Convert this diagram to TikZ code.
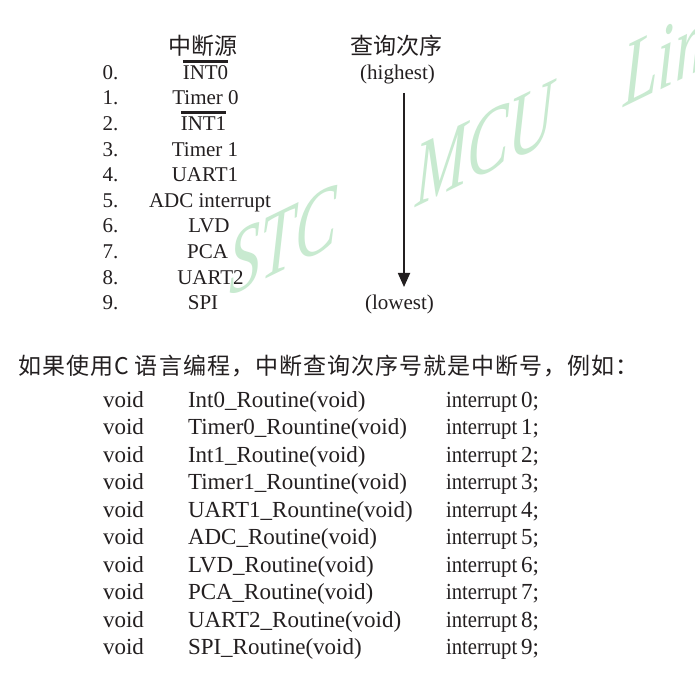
\documentclass[tikz,border=0pt]{standalone}
\usepackage{fontspec}
\setmainfont{Liberation Serif}
\newfontfamily\cjk{Noto Sans CJK SC}
\usetikzlibrary{arrows.meta}
\definecolor{ink}{HTML}{231F20}
\definecolor{wmgreen}{RGB}{200,234,208}
\tikzset{
  txt/.style={inner sep=0pt, outer sep=0pt, text=ink, font=\fontsize{21}{25}\selectfont, anchor=base},
  num/.style={txt, anchor=base west},
  code/.style={inner sep=0pt, outer sep=0pt, text=ink, font=\fontsize{23}{27}\selectfont, anchor=base west},
  hz/.style={inner sep=0pt, outer sep=0pt, text=ink, font=\cjk\fontsize{23}{27}\selectfont},
  bar/.style={line width=3.5pt, draw=ink},
  flow/.style={line width=1.8pt, draw=ink, -{Triangle[length=14pt,width=12pt]}},
  watermark/.style={inner sep=0pt, outer sep=0pt, anchor=base west, yslant=0.488, xscale=0.68, text=wmgreen,
    font=\itshape\fontsize{92}{92}\selectfont}
}
\begin{document}
\begin{tikzpicture}[x=1pt, y=-1pt]
\fill[white] (0,0) rectangle (695,684);
\useasboundingbox (0,0) rectangle (695,684);
% watermark
\node[watermark] (wm1) at (229,297) {STC};
\node[watermark] (wm2) at (415,208) {MCU};
\node[watermark] (wm3) at (623,108) {Limited};
% headers
\node[hz] (h1) at (203,45.5) {中断源};
\node[hz] (h2) at (396.5,45.5) {查询次序};
% list
\foreach \i/\t/\x in {0/INT0/205.5,1/Timer 0/205.5,2/INT1/203.5,3/Timer 1/205,4/UART1/205,5/ADC interrupt/210,6/LVD/209,7/PCA/207.5,8/UART2/210.5,9/SPI/203}{
  \node[num] (n\i) at (102.5,{79.3+25.6*\i}) {\i.};
  \node[txt] (s\i) at (\x,{79.3+25.6*\i}) {\t};
}
\draw[bar] ([yshift=18pt]s0.base west) -- ([yshift=18pt]s0.base east);
\draw[bar] ([yshift=18pt]s2.base west) -- ([yshift=18pt]s2.base east);
% priority arrow
\node[txt] (hi) at (397.5,79.3) {(highest)};
\node[txt] (lo) at (399.5,309.7) {(lowest)};
\coordinate (atop) at (404,93);
\coordinate (abot) at (404,287);
\draw[flow] (atop) -- (abot);
% explanation
\node[hz, anchor=west, font=\cjk\fontsize{23}{27}\selectfont\addfontfeature{LetterSpace=4.5}] (cn) at (18,366) {如果使用C 语言编程，中断查询次序号就是中断号，例如：};
\foreach \i/\f in {0/Int0\_Routine(void),1/Timer0\_Rountine(void),2/Int1\_Routine(void),3/Timer1\_Rountine(void),4/UART1\_Rountine(void),5/ADC\_Routine(void),6/LVD\_Routine(void),7/PCA\_Routine(void),8/UART2\_Routine(void),9/SPI\_Routine(void)}{
  \node[code] (v\i) at (103,{407+27.55*\i}) {void};
  \node[code] (f\i) at (188,{407+27.55*\i}) {\f};
  \node[code] (r\i) at (446,{407+27.55*\i}) {\scalebox{0.9}[1]{interrupt}\,\i;};
}
\end{tikzpicture}
\end{document}
